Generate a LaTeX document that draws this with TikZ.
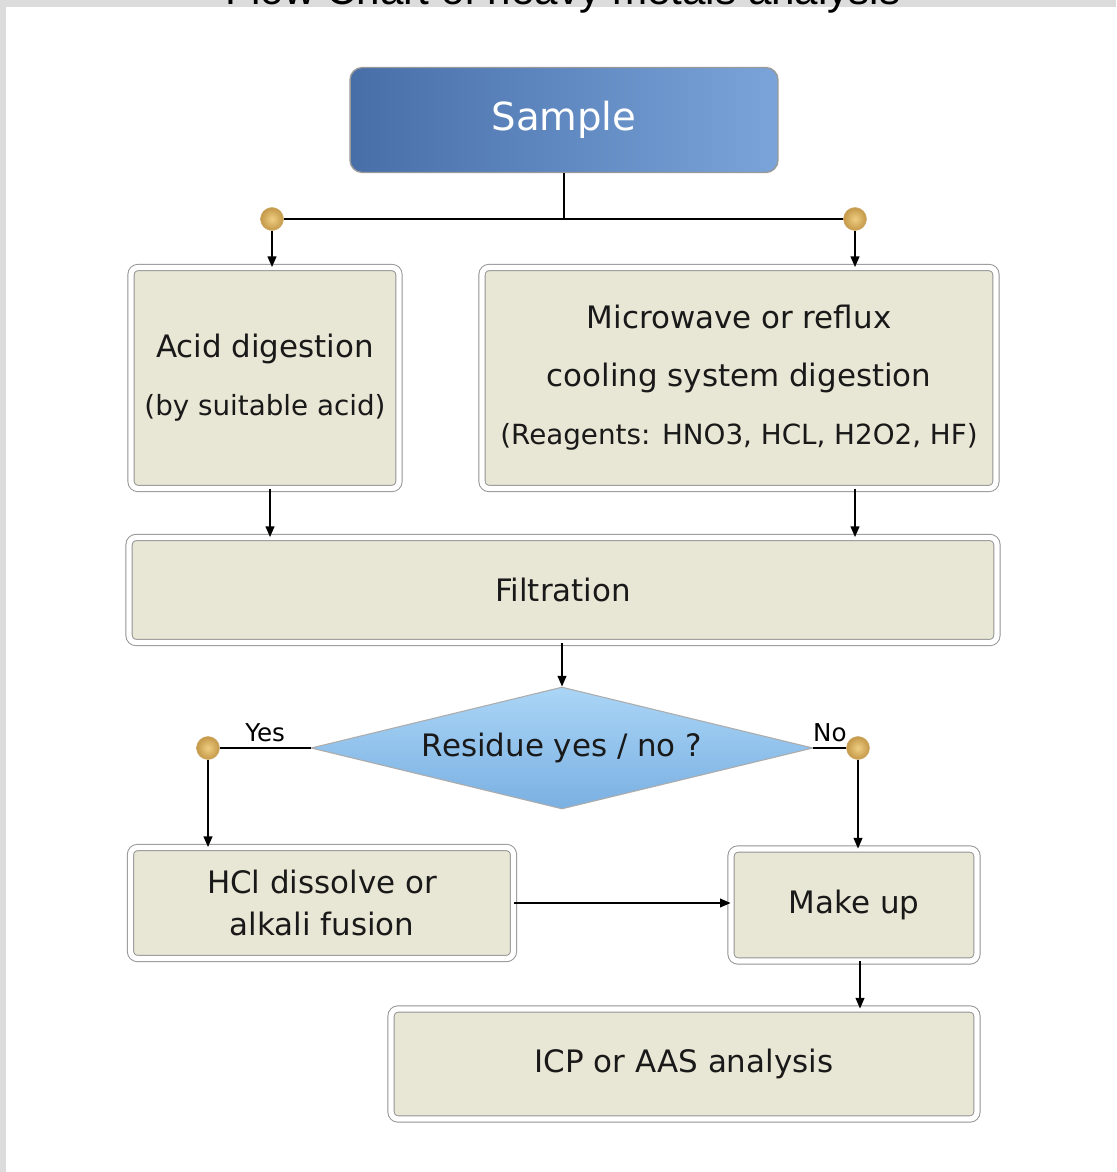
\documentclass[tikz,border=0pt]{standalone}
\usepackage{fontspec}
\setmainfont{DejaVu Sans}
\newfontfamily\titlefont{Liberation Sans}
\usetikzlibrary{shapes.geometric,arrows.meta,shadows}

\definecolor{boxbeige}{RGB}{232,230,212}
\definecolor{framegray}{RGB}{220,220,220}
\definecolor{sampledark}{RGB}{72,110,168}
\definecolor{samplelight}{RGB}{122,164,218}
\definecolor{decisiontop}{RGB}{170,213,246}
\definecolor{decisionbottom}{RGB}{122,176,226}
\definecolor{dotlight}{RGB}{238,206,130}
\definecolor{dotdark}{RGB}{196,152,72}

\begin{document}
\begin{tikzpicture}[x=0.02cm, y=-0.02cm,
		stepbox/.style={rectangle, rounded corners=4pt, draw=gray!85, line width=0.55pt,
			double=white, double distance=3pt, fill=boxbeige, text=black!90,
			align=center, inner sep=2pt,
			drop shadow={shadow xshift=0.6pt, shadow yshift=-1.6pt, opacity=0.3}},
		startbox/.style={rectangle, rounded corners=7pt, draw=gray!80, line width=0.8pt,
			left color=sampledark, right color=samplelight, text=white},
		decision/.style={diamond, aspect=4.1, draw=gray!65, line width=0.6pt, inner sep=0pt,
			top color=decisiontop, bottom color=decisionbottom, text=black!90},
		joint/.style={circle, inner sep=0pt, minimum size=0.46cm,
			inner color=dotlight, outer color=dotdark, draw=dotdark!80, line width=0.3pt},
		link/.style={line width=0.8pt, black, -{Triangle[length=6pt, width=5pt]}},
		main/.style={font=\fontsize{17.6}{21}\selectfont},
		small/.style={font=\fontsize{15.8}{19}\selectfont}]

			% frame of the page and the cut title
			\useasboundingbox (0, 0) rectangle (1116, 1172);
			\fill [framegray] (0, 0) rectangle (1116, 1172);
			\fill [white] (6, 7) rectangle (1116, 1172);
			\node [anchor=base, inner sep=0pt, font=\titlefont\fontsize{24}{28}\selectfont]
			(title) at (563, 5) {Flow Chart of heavy metals analysis};

			\node [startbox, minimum width=8.56cm, minimum height=2.1cm,
			font=\fontsize{22}{26}\selectfont] (sample) at (564, 120) {Sample};

			\node [joint] (split l) at (272, 219) {};
			\node [joint] (split r) at (855, 219) {};

			\node [stepbox, main, minimum width=5.36cm, minimum height=4.42cm] (acid)
			at (265, 378) {Acid digestion\\[12pt] {\fontsize{15.8}{19}\selectfont (by suitable acid)}};
			\node [stepbox, main, minimum width=10.28cm, minimum height=4.42cm] (micro)
			at (739, 378) {Microwave or reflux\\[12pt] cooling system digestion\\[12pt]
			{\fontsize{15.8}{19}\selectfont (Reagents: HNO3, HCL, H2O2, HF)}};

			\node [stepbox, main, minimum width=17.36cm, minimum height=2.1cm] (filt)
			at (563, 590) {Filtration};

			\node [decision, main, minimum width=10.04cm, minimum height=2.44cm] (residue)
			at (562, 748) {Residue yes / no ?};

			\node [joint] (yes) at (208, 748) {};
			\node [joint] (no) at (858, 748) {};

			\node [stepbox, main, minimum width=7.66cm, minimum height=2.22cm] (hcl)
			at (322, 903) {HCl dissolve or\\[3pt] alkali fusion};
			\node [stepbox, main, minimum width=4.92cm, minimum height=2.24cm] (makeup)
			at (854, 905) {Make up};
			\node [stepbox, main, minimum width=11.72cm, minimum height=2.2cm] (icp)
			at (684, 1064) {ICP or AAS analysis};

			% connectors
			\draw [line width=0.8pt] (sample.south) -- (sample.south |- split l);
			\draw [line width=0.8pt] (split l.east) -- (split r.west);
			\draw [link] (split l.south) -- (split l.south |- acid.north);
			\draw [link] (split r.south) -- (split r.south |- micro.north);

			\draw [link] (acid.south -| 270, 0) -- (filt.north -| 270, 0);
			\draw [link] (micro.south -| split r) -- (filt.north -| split r);
			\draw [link] (residue.north |- filt.south) -- (residue.north);

			\draw [line width=0.8pt] (residue.west) -- node [above, font=\fontsize{14}{16}\selectfont] {Yes} (yes.east);
			\draw [line width=0.8pt] (residue.east) -- node [above, font=\fontsize{14}{16}\selectfont] {No} (no.west);
			\draw [link] (yes.south) -- (yes.south |- hcl.north);
			\draw [link] (no.south) -- (no.south |- makeup.north);

			\draw [link] (hcl.east) -- (hcl.east -| makeup.west);
			\draw [link] (makeup.south -| 860, 0) -- (icp.north -| 860, 0);
		\end{tikzpicture}
\end{document}
